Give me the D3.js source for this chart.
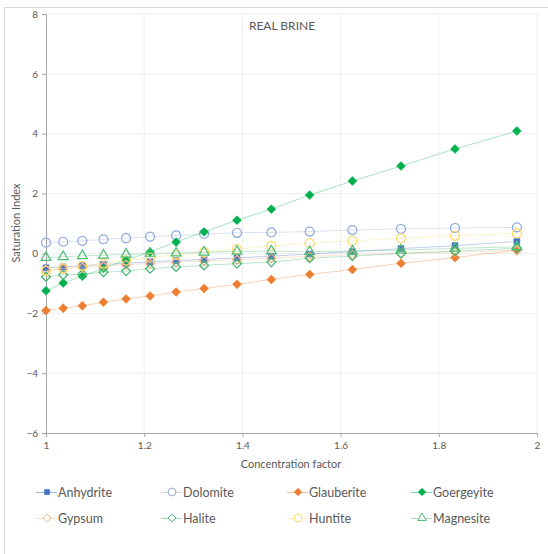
<!DOCTYPE html>
<html><head><meta charset="utf-8">
<script src="https://cdn.jsdelivr.net/npm/d3@7"></script>
<style>body{margin:0;background:#fff;} text{font-family:Lato,"Liberation Sans",sans-serif;}</style>
</head><body>
<svg id="c" width="548" height="554"></svg>
<script>
const conc = [1.000,1.035,1.074,1.117,1.163,1.212,1.265,1.322,1.389,1.459,1.537,1.624,1.723,1.833,1.959];
const seriesNames = ["Anhydrite","Dolomite","Glauberite","Goergeyite","Gypsum","Halite","Huntite","Magnesite"];
const anhydrite  = [-0.48,-0.45,-0.41,-0.37,-0.33,-0.28,-0.24,-0.20,-0.15,-0.09,-0.02,0.06,0.16,0.26,0.40];
const dolomite   = [0.36,0.39,0.42,0.47,0.51,0.56,0.60,0.65,0.69,0.70,0.73,0.78,0.82,0.85,0.87];
const glauberite = [-1.91,-1.83,-1.75,-1.63,-1.52,-1.42,-1.29,-1.17,-1.03,-0.87,-0.70,-0.54,-0.33,-0.14,0.11];
const goergeyite = [-1.25,-0.99,-0.76,-0.50,-0.22,0.05,0.38,0.72,1.11,1.48,1.95,2.42,2.92,3.49,4.09];
const gypsum     = [-0.55,-0.51,-0.47,-0.43,-0.38,-0.34,-0.29,-0.25,-0.21,-0.16,-0.10,-0.04,0.00,0.05,0.10];
const halite     = [-0.78,-0.72,-0.69,-0.63,-0.59,-0.51,-0.45,-0.40,-0.34,-0.29,-0.16,-0.09,0.00,0.08,0.17];
const huntite    = [-0.58,-0.50,-0.42,-0.34,-0.24,-0.14,-0.05,0.04,0.14,0.25,0.34,0.42,0.50,0.59,0.67];
const magnesite  = [-0.14,-0.11,-0.08,-0.06,-0.03,0.00,0.01,0.04,0.07,0.08,0.06,0.08,0.11,0.17,0.22];
const xTicks = [1,1.2,1.4,1.6,1.8,2];
const yTicks = [-6,-4,-2,0,2,4,6,8];

const seriesValues = [anhydrite,dolomite,glauberite,goergeyite,gypsum,halite,huntite,magnesite];
const styles = [
  {color:"#4472C4", shape:"square",   filled:true},
  {color:"#8FAADC", shape:"circle",   filled:false},
  {color:"#ED7D31", shape:"diamond",  filled:true},
  {color:"#00B050", shape:"diamond",  filled:true},
  {color:"#F4B183", shape:"diamond",  filled:false},
  {color:"#3DB36B", shape:"diamond",  filled:false},
  {color:"#FFD966", shape:"circle",   filled:false},
  {color:"#4DBB74", shape:"triangle", filled:false}
];

const svg = d3.select("#c");
svg.append("rect").attr("x",4.5).attr("y",7.5).attr("width",600).attr("height",600)
  .attr("fill","#fff").attr("stroke","#d9d9d9");

const x = d3.scaleLinear().domain([1,2]).range([46,537]);
const y = d3.scaleLinear().domain([-6,8]).range([433,14]);

// gridlines
svg.append("g").selectAll("line").data(yTicks.filter(d=>d>-6)).join("line")
  .attr("x1",x(1)).attr("x2",x(2)).attr("y1",d=>y(d)).attr("y2",d=>y(d))
  .attr("stroke","#eeeeee").attr("stroke-width",1);
svg.append("g").selectAll("line").data(xTicks.filter(d=>d>1)).join("line")
  .attr("x1",d=>x(d)).attr("x2",d=>x(d)).attr("y1",y(-6)).attr("y2",y(8))
  .attr("stroke","#eeeeee").attr("stroke-width",1);

// axes
const xAxis = svg.append("g").attr("transform",`translate(0,${y(-6)})`)
  .call(d3.axisBottom(x).tickValues(xTicks).tickFormat(d3.format("")).tickSize(4).tickPadding(5));
const yAxis = svg.append("g").attr("transform",`translate(${x(1)},0)`)
  .call(d3.axisLeft(y).tickValues(yTicks).tickSize(4).tickPadding(4));
[xAxis,yAxis].forEach(a=>{
  a.select(".domain").attr("stroke","#a6a6a6");
  a.selectAll(".tick line").attr("stroke","#a6a6a6");
  a.selectAll("text").attr("fill","#595959").attr("font-size","10px").attr("font-family","Lato,'Liberation Sans',sans-serif");
});

// titles
svg.append("text").attr("x",282).attr("y",30).attr("text-anchor","middle")
  .attr("font-size","12px").attr("fill","#595959").text("REAL BRINE");
svg.append("text").attr("x",291).attr("y",468).attr("text-anchor","middle")
  .attr("font-size","11px").attr("fill","#595959").text("Concentration factor");
svg.append("text").attr("transform","translate(20,223) rotate(-90)").attr("text-anchor","middle")
  .attr("font-size","11px").attr("fill","#595959").text("Saturation Index");

const symDiamond = {draw(ctx,size){const r=Math.sqrt(size/2);ctx.moveTo(0,-r);ctx.lineTo(r,0);ctx.lineTo(0,r);ctx.lineTo(-r,0);ctx.closePath();}};
function symbolFor(shape){
  return shape==="square"?d3.symbolSquare:shape==="circle"?d3.symbolCircle:
         shape==="triangle"?d3.symbolTriangle:symDiamond;
}
function sizeFor(shape){
  return shape==="square"?36:shape==="circle"?64:shape==="triangle"?42:40;
}

const line = d3.line().x(d=>x(d[0])).y(d=>y(d[1]));
seriesValues.forEach((vals,i)=>{
  const st = styles[i];
  const pts = conc.map((c,j)=>[c,vals[j]]);
  const g = svg.append("g");
  g.append("path").datum(pts).attr("d",line).attr("fill","none")
    .attr("stroke",st.color).attr("stroke-opacity",0.35).attr("stroke-width",1);
  g.selectAll("path.m").data(pts).join("path").attr("class","m")
    .attr("transform",d=>`translate(${x(d[0])},${y(d[1])})`)
    .attr("d",d3.symbol().type(symbolFor(st.shape)).size(sizeFor(st.shape)))
    .attr("fill",st.filled?st.color:"none")
    .attr("stroke",st.color).attr("stroke-width",st.filled?0.5:1.2);
});

// legend
const colX = [47,172,298,422];
const rowY = [492,518];
seriesNames.forEach((name,i)=>{
  const st = styles[i];
  const cx = colX[i%4], cy = rowY[Math.floor(i/4)];
  const g = svg.append("g");
  g.append("line").attr("x1",cx-11).attr("x2",cx+10).attr("y1",cy+0.5).attr("y2",cy+0.5)
    .attr("stroke",st.color).attr("stroke-opacity",0.5).attr("stroke-width",1);
  g.append("path").attr("transform",`translate(${cx},${cy})`)
    .attr("d",d3.symbol().type(symbolFor(st.shape)).size(sizeFor(st.shape)*0.75))
    .attr("fill",st.filled?st.color:"#fff").attr("stroke",st.color).attr("stroke-width",st.filled?0.5:1);
  g.append("text").attr("x",cx+11).attr("y",cy+4.5).attr("font-size","12.5px")
    .attr("fill","#595959").text(name);
});
</script>
</body></html>
